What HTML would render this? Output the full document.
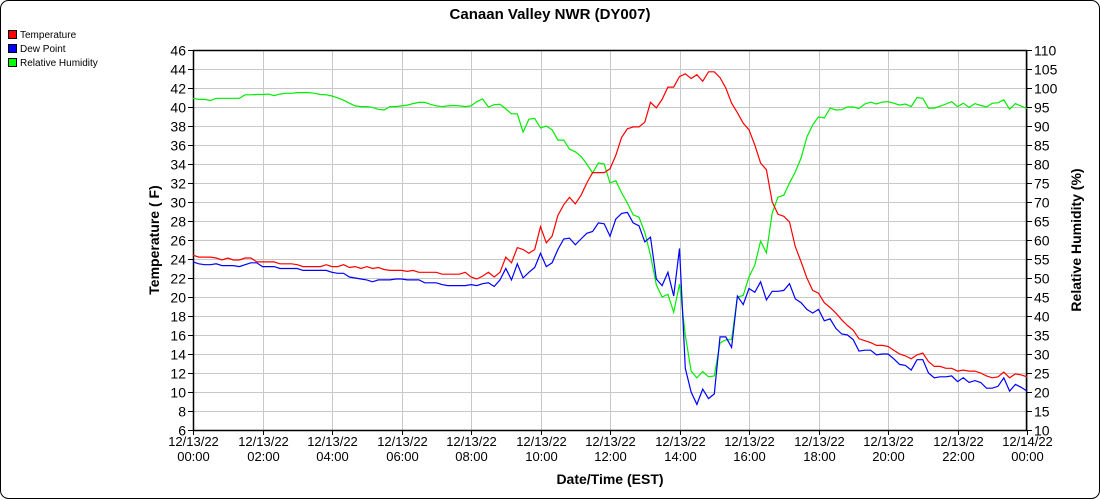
<!DOCTYPE html>
<html><head><meta charset="utf-8">
<style>
body{margin:0;background:#fff;}
svg{display:block;font-family:"Liberation Sans",sans-serif;}
</style></head>
<body>
<svg id="chart" width="1100" height="500" viewBox="0 0 1100 500" xmlns="http://www.w3.org/2000/svg">
<rect x="0.5" y="0.5" width="1099" height="498" rx="8" fill="#fff" stroke="#000" stroke-width="1"/>
<text x="550" y="19" text-anchor="middle" font-size="15" font-weight="bold">Canaan Valley NWR (DY007)</text>
<g>
<g><rect x="8.5" y="30.5" width="8" height="8" fill="#f00" stroke="#000"/><text x="20" y="38" font-size="10">Temperature</text></g>
<g><rect x="8.5" y="44.5" width="8" height="8" fill="#00f" stroke="#000"/><text x="20" y="52" font-size="10">Dew Point</text></g>
<g><rect x="8.5" y="58.5" width="8" height="8" fill="#0f0" stroke="#000"/><text x="20" y="66" font-size="10">Relative Humidity</text></g>
</g>
<g id="grid"></g>
<g id="axes"></g>
<g id="series"></g>
<text transform="translate(159,240) rotate(-90)" text-anchor="middle" font-size="14" font-weight="bold">Temperature ( F)</text>
<text transform="translate(1081,240) rotate(-90)" text-anchor="middle" font-size="14" font-weight="bold">Relative Humidity (%)</text>
<text x="610" y="484" text-anchor="middle" font-size="14" font-weight="bold">Date/Time (EST)</text>
</svg>
<script>
const leftTicks=[6,8,10,12,14,16,18,20,22,24,26,28,30,32,34,36,38,40,42,44,46];
const rightTicks=[10,15,20,25,30,35,40,45,50,55,60,65,70,75,80,85,90,95,100,105,110];
const xTickHours=[0,2,4,6,8,10,12,14,16,18,20,22,24];
const xTickDates=["12/13/22","12/13/22","12/13/22","12/13/22","12/13/22","12/13/22","12/13/22","12/13/22","12/13/22","12/13/22","12/13/22","12/13/22","12/14/22"];
const xTickTimes=["00:00","02:00","04:00","06:00","08:00","10:00","12:00","14:00","16:00","18:00","20:00","22:00","00:00"];
const temperature=[24.4,24.2,24.2,24.2,24.1,23.9,24.1,23.9,23.9,24.1,24.1,23.7,23.7,23.7,23.7,23.5,23.5,23.5,23.4,23.2,23.2,23.2,23.2,23.4,23.2,23.2,23.4,23.1,23.2,23.0,23.2,23.0,23.1,22.9,22.8,22.8,22.8,22.7,22.8,22.6,22.6,22.6,22.6,22.4,22.4,22.4,22.4,22.6,22.1,21.9,22.2,22.6,22.1,22.6,24.2,23.6,25.2,25.0,24.6,25.0,27.4,25.7,26.4,28.6,29.7,30.5,29.8,30.7,32.0,33.1,33.1,33.1,33.5,34.9,36.8,37.7,37.9,37.9,38.4,40.5,39.9,40.8,42.1,42.1,43.2,43.5,43.0,43.4,42.7,43.7,43.7,43.1,42.0,40.4,39.4,38.3,37.6,36.0,34.1,33.4,30.0,28.7,28.5,27.9,25.3,23.7,22.0,20.7,20.4,19.4,18.9,18.3,17.6,17.0,16.5,15.6,15.4,15.2,14.9,14.9,14.8,14.4,14.0,13.8,13.5,13.9,14.1,13.2,12.7,12.7,12.5,12.5,12.2,12.3,12.2,12.2,12.0,11.7,11.5,11.6,12.1,11.5,11.9,11.8,11.6];
const dewPoint=[23.7,23.5,23.4,23.4,23.5,23.3,23.3,23.3,23.2,23.4,23.6,23.6,23.2,23.2,23.2,23.0,23.0,23.0,23.0,22.8,22.8,22.8,22.8,22.8,22.6,22.5,22.5,22.1,22.0,21.9,21.8,21.6,21.8,21.8,21.8,21.9,21.9,21.8,21.8,21.8,21.5,21.5,21.5,21.3,21.2,21.2,21.2,21.2,21.3,21.2,21.4,21.5,21.1,21.8,23.0,21.8,23.5,22.0,22.6,23.1,24.6,23.2,23.6,25.0,26.1,26.2,25.5,26.1,26.7,26.9,27.8,27.7,26.4,28.2,28.8,28.9,27.8,27.5,25.8,26.3,21.9,21.2,22.6,20.1,25.1,12.5,10.0,8.7,10.3,9.3,9.8,15.8,15.8,14.7,20.1,19.2,20.9,20.5,21.6,19.7,20.6,20.6,20.7,21.4,19.8,19.4,18.7,18.3,18.7,17.5,17.7,16.7,16.1,16.0,15.5,14.3,14.4,14.4,13.9,14.0,14.0,13.5,12.9,12.8,12.3,13.4,13.4,12.0,11.5,11.6,11.6,11.7,11.1,11.5,11.0,11.2,11.0,10.4,10.4,10.6,11.5,10.1,10.8,10.5,10.1];
const relHumidity=[97.3,97.0,97.0,96.7,97.3,97.3,97.3,97.3,97.3,98.2,98.2,98.3,98.3,98.4,98.0,98.4,98.6,98.6,98.8,98.8,98.8,98.6,98.3,98.2,97.9,97.4,96.8,96.0,95.3,95.1,95.1,94.9,94.4,94.2,95.1,95.1,95.3,95.5,95.9,96.2,96.2,95.7,95.3,95.1,95.3,95.4,95.3,95.1,95.3,96.4,97.1,95.0,95.6,95.7,94.5,93.2,93.2,88.4,91.8,92.0,89.5,90.0,89.0,86.3,86.3,83.9,83.2,82.0,80.0,77.6,80.3,80.0,75.0,75.6,72.4,69.7,66.6,66.0,62.0,56.0,48.2,45.0,45.7,41.0,48.4,35.0,25.5,23.7,25.4,24.0,24.2,32.9,33.7,33.8,45.0,45.4,50.3,53.4,59.7,56.6,67.1,71.3,71.8,75.0,77.9,81.6,87.1,90.3,92.4,92.1,94.7,94.2,94.3,95.0,95.0,94.6,95.8,96.3,95.8,96.3,96.4,96.0,95.5,95.8,95.1,97.5,97.3,94.7,94.7,95.2,95.8,96.4,95.1,96.0,94.9,95.9,95.4,95.0,96.0,96.1,96.9,94.4,95.9,95.2,94.6];

const NS="http://www.w3.org/2000/svg";
const X0=193,X1=1027,Y0=430,Y1=50;
const xScale=h=>X0+(X1-X0)*h/24;
const yLeft=v=>Y0-(v-6)*(Y0-Y1)/40;
const yRight=v=>Y0-(v-10)*(Y0-Y1)/100;
function mk(tag,parent){const e=document.createElementNS(NS,tag);parent.appendChild(e);return e;}
const grid=document.getElementById('grid'),axes=document.getElementById('axes'),series=document.getElementById('series');

leftTicks.forEach(v=>{
  const y=Math.round(yLeft(v))+0.5;
  const g=mk('line',grid);
  
  
  g.setAttribute('x1',X0);g.setAttribute('x2',X1);g.setAttribute('y1',y);g.setAttribute('y2',y);
  g.setAttribute('stroke','#c8c8c8');
  const t=mk('line',axes);
  
  
  t.setAttribute('x1',X0-5);t.setAttribute('x2',X0);t.setAttribute('y1',y);t.setAttribute('y2',y);t.setAttribute('stroke','#000');
  const l=mk('text',axes);
  
  
  l.setAttribute('x',X0-7);l.setAttribute('y',y+5);l.setAttribute('text-anchor','end');l.setAttribute('font-size','14');
  l.textContent=v;
});
rightTicks.forEach(v=>{
  const y=Math.round(yRight(v))+0.5;
  const t=mk('line',axes);
  
  
  t.setAttribute('x1',X1);t.setAttribute('x2',X1+5);t.setAttribute('y1',y);t.setAttribute('y2',y);t.setAttribute('stroke','#000');
  const l=mk('text',axes);
  
  
  l.setAttribute('x',X1+7);l.setAttribute('y',y+5);l.setAttribute('font-size','14');
  l.textContent=v;
});
xTickHours.forEach((h,i)=>{
  const x=Math.round(xScale(h))+0.5;
  const g=mk('line',grid);
  
  
  g.setAttribute('x1',x);g.setAttribute('x2',x);g.setAttribute('y1',Y1);g.setAttribute('y2',Y0);g.setAttribute('stroke','#c8c8c8');
  const t=mk('line',axes);
  
  
  t.setAttribute('x1',x);t.setAttribute('x2',x);t.setAttribute('y1',Y0);t.setAttribute('y2',Y0+5);t.setAttribute('stroke','#000');
  const l=mk('text',axes);
  
  
  l.setAttribute('x',x);l.setAttribute('y',Y0+16);l.setAttribute('text-anchor','middle');l.setAttribute('font-size','13');
  l.textContent=xTickDates[i];
  const l2=mk('text',axes);
  
  
  l2.setAttribute('x',x);l2.setAttribute('y',Y0+31);l2.setAttribute('text-anchor','middle');l2.setAttribute('font-size','13');
  l2.textContent=xTickTimes[i];
});
const frame=mk('rect',axes);


frame.setAttribute('x',X0+0.5);frame.setAttribute('y',Y1+0.5);frame.setAttribute('width',X1-X0-1);frame.setAttribute('height',Y0-Y1);
frame.setAttribute('fill','none');frame.setAttribute('stroke','#000');frame.setAttribute('stroke-width','1.5');

function drawLine(arr,yf,color,name){
  const p=mk('polyline',series);
  
  
  p.setAttribute('points',arr.map((v,i)=>xScale(i/6).toFixed(1)+','+yf(v).toFixed(1)).join(' '));
  p.setAttribute('fill','none');p.setAttribute('stroke',color);p.setAttribute('stroke-width','1.2');
}
drawLine(relHumidity,yRight,'#00ee00','relative-humidity-line');
drawLine(dewPoint,yLeft,'#0000ff','dew-point-line');
drawLine(temperature,yLeft,'#ff0000','temperature-line');
</script>
</body></html>
